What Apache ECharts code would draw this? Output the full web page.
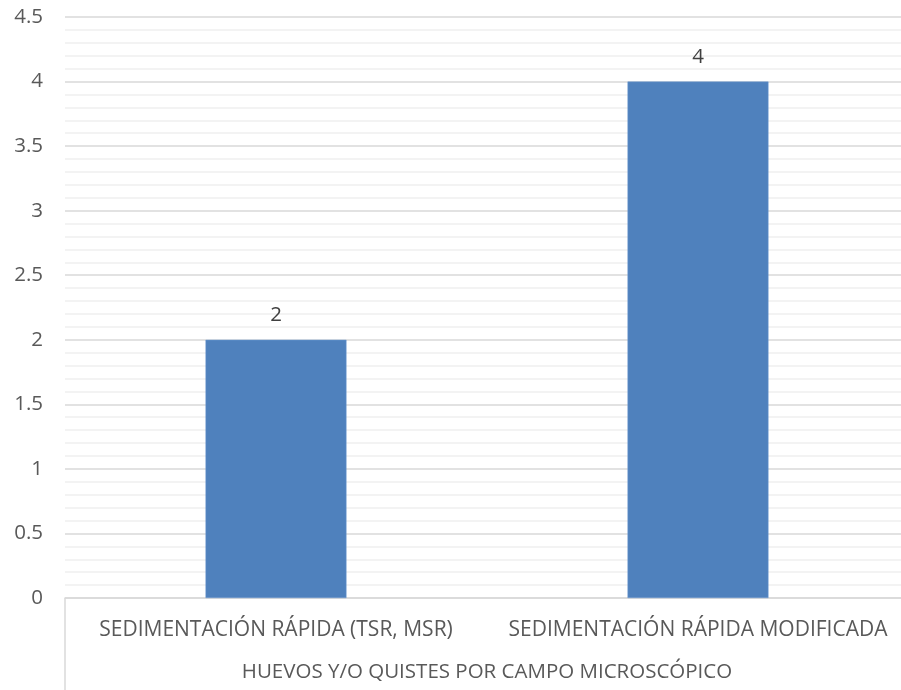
<!DOCTYPE html>
<html><head><meta charset="utf-8">
<script src="https://cdn.jsdelivr.net/npm/echarts@6/dist/echarts.min.js"></script>
<style>html,body{margin:0;padding:0;background:#fff}#c{width:901px;height:690px}</style>
</head><body><div id="c"></div>
<script>
const categories = ['SEDIMENTACIÓN RÁPIDA (TSR, MSR)', 'SEDIMENTACIÓN RÁPIDA MODIFICADA'];
const values = [2, 4];
const groupLabel = 'HUEVOS Y/O QUISTES POR CAMPO MICROSCÓPICO';
const yTicks = [0, 0.5, 1, 1.5, 2, 2.5, 3, 3.5, 4, 4.5];

const FONT = "'Open Sans'";
const chart = echarts.init(document.getElementById('c'));
chart.setOption({
  animation: false,
  grid: { left: 65, top: 17, width: 844, height: 581, containLabel: false, outerBoundsMode: 'none' },
  xAxis: {
    type: 'category',
    data: categories,
    axisLine: { lineStyle: { color: '#d9d9d9', width: 1.5 } },
    axisTick: { show: false },
    axisLabel: { color: '#595959', fontSize: 21, fontFamily: FONT, margin: 22, interval: 0 },
    name: groupLabel,
    nameLocation: 'middle',
    nameGap: 64,
    nameTextStyle: { color: '#595959', fontSize: 20.5, fontFamily: FONT }
  },
  yAxis: {
    type: 'value',
    min: yTicks[0],
    max: yTicks[yTicks.length - 1],
    interval: 0.5,
    axisLine: { show: false },
    axisTick: { show: false },
    axisLabel: { color: '#595959', fontSize: 20.5, fontFamily: FONT, margin: 22 },
    splitLine: { lineStyle: { color: '#d9d9d9', width: 1.5 } },
    minorTick: { show: false, splitNumber: 5 },
    minorSplitLine: { show: true, lineStyle: { color: '#f0f0f0', width: 1.5 } }
  },
  series: [{
    type: 'bar',
    data: values,
    barWidth: '33.4%',
    itemStyle: { color: '#4f81bd', borderColor: '#6f9ad0', borderWidth: 0.5 },
    label: { show: true, position: 'top', distance: 14, color: '#404040', fontSize: 20.5, fontFamily: FONT }
  }],
  graphic: [{
    type: 'line',
    shape: { x1: 65, y1: 598, x2: 65, y2: 690 },
    style: { stroke: '#d9d9d9', lineWidth: 1.5 }
  }]
});
</script>
</body></html>
